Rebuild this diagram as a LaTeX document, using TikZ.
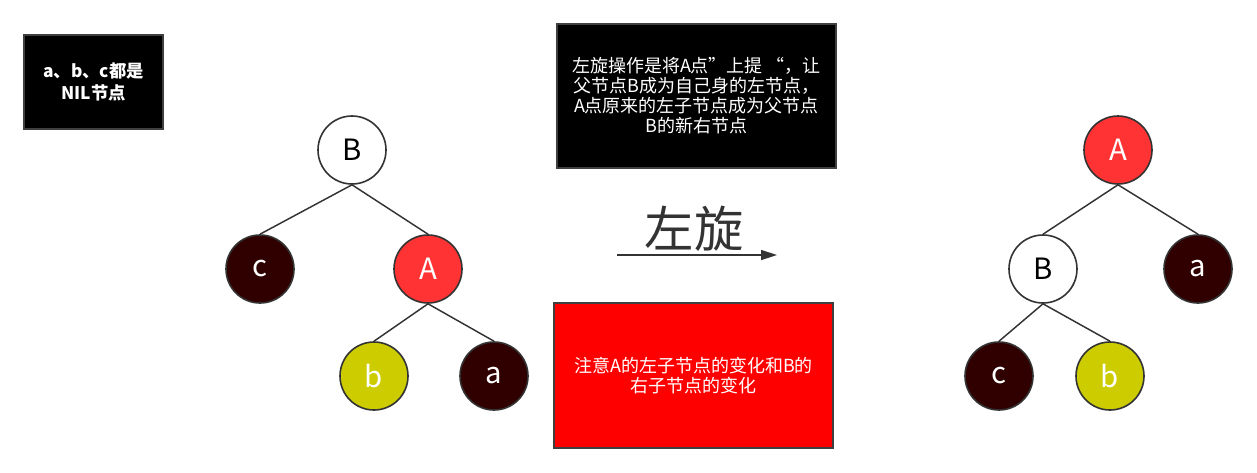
\documentclass[tikz,border=0pt]{standalone}
\usepackage{fontspec}
\setmainfont{Noto Sans CJK SC}
\usepackage{tikz}
\usetikzlibrary{arrows.meta, positioning}
\definecolor{linegray}{HTML}{333333}
\definecolor{boxgray}{HTML}{3F3F3F}
\definecolor{nildark}{HTML}{300000}
\definecolor{rotred}{HTML}{FF3333}
\definecolor{leafyellow}{HTML}{CCCC00}
\definecolor{notered}{HTML}{FF0000}
\tikzset{
  rb/.style={circle, draw=linegray, line width=1.2pt, minimum size=51pt, inner sep=0pt,
    font=\fontsize{22}{25}\selectfont},
  rb/white/.style={rb, fill=white, text=black},
  rb/red/.style={rb, fill=rotred, text=white},
  rb/nil/.style={rb, fill=nildark, text=white},
  rb/leaf/.style={rb, fill=leafyellow, text=white},
  note/.style={rectangle, draw=boxgray, line width=1.2pt, text=white, align=center,
    font=\fontsize{13.5}{15}\selectfont, inner sep=2pt},
  edge/.style={draw=linegray, line width=1.1pt},
  rotar/.style={-{Triangle[length=12pt,width=7.5pt]}, draw=linegray, line width=1.1pt},
}
\begin{document}
\begin{tikzpicture}[x=0.75pt, y=-0.75pt]
  \useasboundingbox (0,0) rectangle (1257,472);
  % notes
  \node[note, fill=black, minimum width=104pt, minimum height=70.5pt,
        font=\fontsize{13}{16.5}\selectfont\bfseries] (nilnote) at (93.5,82) {a、b、c都是\\NIL节点};
  \node[note, fill=black, minimum width=209pt, minimum height=108pt] (rotnote) at (696.5,96)
    {左旋操作是将A点”上提 “，让\\父节点B成为自己身的左节点，\\A点原来的左子节点成为父节点\\B的新右节点};
  \node[note, fill=notered, minimum width=209pt, minimum height=108.75pt] (warnnote) at (693.5,375.5)
    {注意A的左子节点的变化和B的\\右子节点的变化};
  % before
  \node[rb/white] (lB) at (352,150) {B};
  \node[rb/nil] (lc) at (260,269) {c};
  \node[rb/red] (lA) at (428,269) {A};
  \node[rb/leaf] (lb) at (374,376) {b};
  \node[rb/nil] (la) at (494,376) {a};
  \draw[edge] (lB.south) -- (lc.north);
  \draw[edge] (lB.south) -- (lA.north);
  \draw[edge] (lA.south) -- (lb.north);
  \draw[edge] (lA.south) -- (la.north);
  % rotation
  \coordinate (rotfrom) at (617,255);
  \coordinate (rotto) at (777,255);
  \draw[rotar] (rotfrom) -- (rotto);
  \node[text=linegray, font=\fontsize{37}{40}\selectfont] (rotlbl) at (694,229) {左旋};
  % after
  \node[rb/red] (rA) at (1118,150) {A};
  \node[rb/white] (rB) at (1043,269) {B};
  \node[rb/nil] (ra) at (1198,269) {a};
  \node[rb/nil] (rc) at (999,376) {c};
  \node[rb/leaf] (rb) at (1110,376) {b};
  \draw[edge] (rA.south) -- (rB.north);
  \draw[edge] (rA.south) -- (ra.north);
  \draw[edge] (rB.south) -- (rc.north);
  \draw[edge] (rB.south) -- (rb.north);
\end{tikzpicture}
\end{document}
